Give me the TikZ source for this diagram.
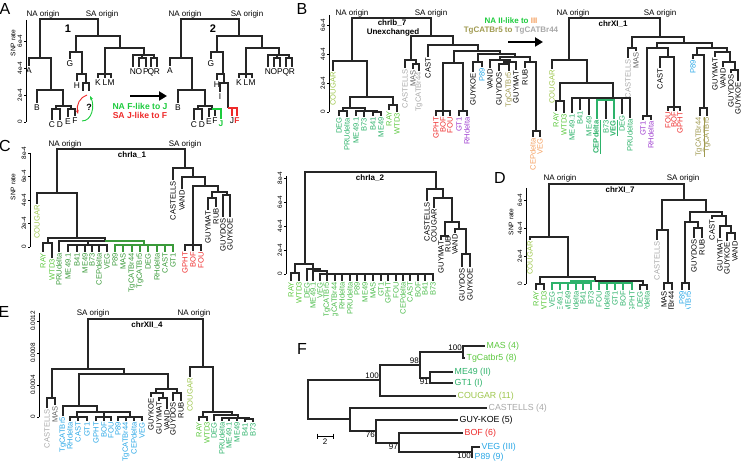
\documentclass[tikz,border=0pt]{standalone}
\usepackage{fontspec}
\setmainfont{Liberation Sans}
\usetikzlibrary{arrows.meta}

\definecolor{cougar}{HTML}{9DC64C}
\definecolor{lgreen}{HTML}{5CC83E}
\definecolor{tgreen}{HTML}{2DB26A}
\definecolor{dgreen}{HTML}{3A9A3A}
\definecolor{mgreen}{HTML}{4CBC4C}
\definecolor{lgrey}{HTML}{A8A8A8}
\definecolor{mgrey}{HTML}{666666}
\definecolor{tred}{HTML}{EE2A2A}
\definecolor{tpurple}{HTML}{9E3DCF}
\definecolor{tblue}{HTML}{2AA7E6}
\definecolor{olive}{HTML}{A09A50}
\definecolor{orng}{HTML}{F4A060}
\definecolor{nagreen}{HTML}{1DCB3D}

% a leaf: tip coordinate plus its label
\newcommand\leaf[6][lf]{\coordinate (#2) at (#3,#4);
  \node[#1,text=#5] (#2t) at (#2) {#6};}
% SNP rate axis: name, x, top, bottom, ticks as y/label
\newcommand\snpaxis[5]{\draw[axis] (#2,#3) -- (#2,#4);
  \foreach \y/\t [count=\i] in {#5} {\draw[axis] (#2,\y) -- ++(-2.5,0);
    \node[tick] (#1\i) at (#2-3,\y) {\t};}}

\begin{document}
\begin{tikzpicture}[x=1pt, y=-1pt,
    lf/.style={rotate=90, anchor=east, inner sep=1pt, font=\fontsize{7.6}{8}\selectfont},
    lh/.style={anchor=north, inner sep=1.2pt, font=\fontsize{8.4}{9}\selectfont},
    lr/.style={anchor=west, inner sep=1.5pt, font=\fontsize{8.8}{10}\selectfont},
    orig/.style={inner sep=0pt, font=\fontsize{8}{9}\selectfont},
    ttl/.style={inner sep=0pt, font=\bfseries\fontsize{8}{9}\selectfont},
    panel/.style={inner sep=0pt, font=\fontsize{16}{18}\selectfont},
    tick/.style={rotate=90, anchor=south, inner sep=.5pt, font=\fontsize{6.4}{7}\selectfont},
    snp/.style={rotate=90, inner sep=0pt, font=\fontsize{6.6}{7}\selectfont},
    boot/.style={inner sep=1pt, font=\fontsize{8}{9}\selectfont},
    axis/.style={line width=.7pt},
    bigarrow/.style={line width=2.4pt, -{Triangle[length=8pt,width=9pt]}},
    every edge/.style={draw=black!85, line width=1.15pt, to path={-| (\tikztotarget)}},
    gl/.style={draw=dgreen}, tl/.style={draw=tgreen},
    rl/.style={draw=tred}, nl/.style={draw=nagreen}
  ]
\useasboundingbox (0,0) rectangle (742,470);

%% ---------------- A
\node[panel] (pA) at (5,9) {A};
\snpaxis{axA}{26}{20}{122}{122/0,95/2e-4,68/4e-4,41/6e-4}
\node[snp] (snpA) at (13,43) {SNP rate};
\node[orig] (naA1) at (43,14) {NA origin};
\node[orig] (saA1) at (102,14) {SA origin};
\node[orig] (naA2) at (185,14) {NA origin};
\node[orig] (saA2) at (247,14) {SA origin};
\node[ttl, font=\bfseries\fontsize{11}{12}\selectfont] (one) at (68,29) {1};
\node[ttl, font=\bfseries\fontsize{11}{12}\selectfont] (two) at (213,29) {2};

% tree 1
\coordinate (r1) at (69,19);
\coordinate (na1) at (40,58);
\coordinate (n21) at (51,90);
\coordinate (cf1) at (63,106);
\coordinate (cd1) at (56,109);
\coordinate (ef1) at (71,109);
\coordinate (sa1) at (98,36);
\coordinate (gh1) at (76,52);
\coordinate (hi1) at (82,74);
\coordinate (ij1) at (86,83);
\coordinate (rs1) at (120,48);
\coordinate (km1) at (105,74);
\coordinate (nr1) at (144,55);
\coordinate (op1) at (142,58);
\coordinate (qr1) at (154,58);
\leaf[lh]{aA1}{29}{66}{black}{A}
\leaf[lh]{aB1}{37}{103}{black}{B}
\leaf[lh]{aC1}{52}{120}{black}{C}
\leaf[lh]{aD1}{60}{120}{black}{D}
\leaf[lh]{aE1}{68}{117}{black}{E}
\leaf[lh]{aF1}{75}{116}{black}{F}
\leaf[lh]{aG1}{70}{59}{black}{G}
\leaf[lh]{aH1}{77}{81}{black}{H}
\coordinate (aI1) at (83,91);
\coordinate (aJ1) at (89,91);
\leaf[lh]{aK1}{98}{78}{black}{K}
\leaf[lh]{aL1}{105}{78}{black}{L}
\leaf[lh]{aM1}{111}{78}{black}{M}
\leaf[lh]{aN1}{133}{67}{black}{N}
\leaf[lh]{aO1}{139}{67}{black}{O}
\leaf[lh]{aP1}{146}{67}{black}{P}
\leaf[lh]{aQ1}{151}{67}{black}{Q}
\leaf[lh]{aR1}{157}{67}{black}{R}
\path (r1) edge (na1) edge (sa1);
\path (na1) edge (aA1) edge (n21);
\path (n21) edge (aB1) edge (cf1);
\path (cf1) edge (cd1) edge (ef1);
\path (cd1) edge (aC1) edge (aD1);
\path (ef1) edge (aE1) edge (aF1);
\path (sa1) edge (gh1) edge (rs1);
\path (gh1) edge (aG1) edge (hi1);
\path (hi1) edge (aH1) edge (ij1);
\path (ij1) edge (aI1) edge (aJ1);
\path (rs1) edge (km1) edge (nr1);
\path (km1) edge (aK1) edge (aL1) edge (aM1);
\path (nr1) edge (aN1) edge (op1) edge (qr1);
\path (op1) edge (aO1) edge (aP1);
\path (qr1) edge (aQ1) edge (aR1);
% the swap in question
\node[ttl, font=\bfseries\fontsize{9}{10}\selectfont] (qm) at (89,107) {?};
\coordinate (qr) at (87,95);
\coordinate (qf) at (78,114);
\coordinate (qg) at (82,121);
\coordinate (qj) at (90,96);
\draw[tred, line width=.9pt, -{Stealth[length=4pt]}] (qr) .. controls (80,97) and (76,105) .. (qf);
\draw[nagreen, line width=.9pt, -{Stealth[length=4pt]}] (qg) .. controls (92,121) and (95,106) .. (qj);

% tree 2
\coordinate (r2) at (210,19);
\coordinate (na2) at (181,58);
\coordinate (n22) at (192,90);
\coordinate (cf2) at (205,106);
\coordinate (cd2) at (198,109);
\coordinate (ef2) at (212,109);
\coordinate (sa2) at (239,36);
\coordinate (gh2) at (217,52);
\coordinate (hi2) at (223,74);
\coordinate (ij2) at (224,83);
\coordinate (jf2) at (228,108);
\coordinate (rs2) at (262,48);
\coordinate (km2) at (246,74);
\coordinate (nr2) at (279,55);
\coordinate (op2) at (277,58);
\coordinate (qr2) at (289,58);
\leaf[lh]{aA2}{170}{66}{black}{A}
\leaf[lh]{aB2}{178}{103}{black}{B}
\leaf[lh]{aC2}{194}{120}{black}{C}
\leaf[lh]{aD2}{202}{120}{black}{D}
\leaf[lh]{aE2}{209}{117}{black}{E}
\leaf[lh]{aF2}{215}{116}{black}{F}
\leaf[lh]{aJ2}{221}{119}{nagreen}{\textbf{J}}
\leaf[lh]{aG2}{211}{59}{black}{G}
\leaf[lh]{aH2}{217}{80}{black}{H}
\leaf[lh]{aI2}{220}{92}{black}{I}
\leaf[lh]{aJ3}{232}{116}{black}{J}
\leaf[lh]{aF3}{237}{116}{tred}{\textbf{F}}
\leaf[lh]{aK2}{239}{78}{black}{K}
\leaf[lh]{aL2}{246}{78}{black}{L}
\leaf[lh]{aM2}{252}{78}{black}{M}
\leaf[lh]{aN2}{268}{67}{black}{N}
\leaf[lh]{aO2}{274}{67}{black}{O}
\leaf[lh]{aP2}{280}{67}{black}{P}
\leaf[lh]{aQ2}{286}{67}{black}{Q}
\leaf[lh]{aR2}{292}{67}{black}{R}
\path (r2) edge (na2) edge (sa2);
\path (na2) edge (aA2) edge (n22);
\path (n22) edge (aB2) edge (cf2);
\path (cf2) edge (cd2) edge (ef2);
\path (cd2) edge (aC2) edge (aD2);
\path (ef2) edge (aE2) edge (aF2) edge[nl] (aJ2);
\path (sa2) edge (gh2) edge (rs2);
\path (gh2) edge (aG2) edge (hi2);
\path (hi2) edge (aH2) edge (ij2);
\path (ij2) edge (aI2) edge (jf2);
\path (jf2) edge[rl] (aJ3) edge[rl] (aF3);
\path (rs2) edge (km2) edge (nr2);
\path (km2) edge (aK2) edge (aL2) edge (aM2);
\path (nr2) edge (aN2) edge (op2) edge (qr2);
\path (op2) edge (aO2) edge (aP2);
\path (qr2) edge (aQ2) edge (aR2);

\coordinate (arA1) at (130,96);
\coordinate (arA2) at (167,96);
\draw[bigarrow] (arA1) -- (arA2);
\node[ttl, text=nagreen, font=\bfseries\fontsize{8.6}{10}\selectfont] (fj) at (140,106) {NA F-like to J};
\node[ttl, text=tred, font=\bfseries\fontsize{8.6}{10}\selectfont] (jfl) at (140,115) {SA J-like to F};

%% ---------------- B, chrIb_7
\node[panel] (pB) at (302,9) {B};
\snpaxis{axB}{329}{15}{112}{112/0,83/2e-4,54/4e-4,25/6e-4}
\node[orig] (naB) at (352,13) {NA origin};
\node[orig] (saB) at (431,13) {SA origin};
\node[ttl] (tB) at (392,23) {chrIb\_7};
\node[ttl] (tB2) at (393,32) {Unexchanged};
\coordinate (bR) at (392,18);
\coordinate (bNA) at (352,61);
\coordinate (bNB) at (367,97);
\coordinate (bNC) at (350,108);
\coordinate (bG1) at (343,111);
\coordinate (bG2) at (365,111);
\coordinate (bG3) at (377,112);
\coordinate (bRW) at (393,105);
\coordinate (bSA) at (431,36);
\coordinate (bC1) at (411,60);
\coordinate (bMT) at (416,64);
\coordinate (bC2) at (453,45);
\coordinate (bC3) at (478,51);
\coordinate (bGR) at (454,63);
\coordinate (bRD) at (443,111);
\coordinate (bPU) at (463,111);
\coordinate (bC4) at (500,54);
\coordinate (bGP) at (478,62);
\coordinate (bC5) at (515,57);
\coordinate (bC6) at (500,60);
\coordinate (bC8) at (510,62);
\coordinate (bGT) at (504,64);
\coordinate (bC7) at (530,62);
\coordinate (bCV) at (536,131);
\leaf{bCOU}{333}{71}{cougar}{COUGAR}
\leaf{bDEG}{339}{116}{tgreen}{DEG}
\leaf{bPRU}{347}{117}{tgreen}{PRUdelta}
\leaf{bME1}{356}{116}{tgreen}{ME49.1}
\leaf{bB73}{364}{117}{tgreen}{B73}
\leaf{bB41}{373}{116}{tgreen}{B41}
\leaf{bME}{381}{116}{tgreen}{ME49}
\leaf{bRAY}{389}{110}{lgreen}{RAY}
\leaf{bWTD}{397}{112}{lgreen}{WTD3}
\leaf{bCTL}{405}{68}{lgrey}{CASTELLS}
\leaf{bMAS}{413}{69}{mgrey}{MAS}
\leaf{bT44}{419}{71}{lgrey}{TgCATBr44}
\leaf{bCAST}{428}{57}{black}{CAST}
\leaf{bGPHT}{436}{116}{tred}{GPHT}
\leaf{bBOF}{443}{116}{tred}{BOF}
\leaf{bFOU}{450}{116}{tred}{FOU}
\leaf{bGT1}{459}{116}{tpurple}{GT1}
\leaf{bRHd}{467}{116}{tpurple}{RHdelta}
\leaf{bGK}{473}{72}{black}{GUYKOE}
\leaf{bP89}{482}{67}{tblue}{P89}
\leaf{bVAND}{490}{68}{black}{VAND}
\leaf{bGD}{499}{71}{black}{GUYDOS}
\leaf{bT5}{509}{71}{olive}{TgCATBr5}
\leaf{bGM}{516}{70}{black}{GUYMAT}
\leaf{bRUB}{525}{68}{black}{RUB}
\leaf{bCEP}{533}{137}{orng}{CEPdelta}
\leaf{bVEG}{540}{137}{orng}{VEG}
\path (bR) edge (bNA) edge (bSA);
\path (bNA) edge (bCOU) edge (bNB);
\path (bNB) edge (bNC) edge (bRW);
\path (bNC) edge (bG1) edge (bG2);
\path (bG1) edge (bDEG) edge (bPRU);
\path (bG2) edge (bME1) edge (bB73) edge (bG3);
\path (bG3) edge (bB41) edge (bME);
\path (bRW) edge (bRAY) edge (bWTD);
\path (bSA) edge (bC1) edge (bC2);
\path (bC1) edge (bCTL) edge (bMT);
\path (bMT) edge (bMAS) edge (bT44);
\path (bC2) edge (bCAST) edge (bC3);
\path (bC3) edge (bGR) edge (bC4);
\path (bGR) edge (bRD) edge (bPU);
\path (bRD) edge (bGPHT) edge (bBOF) edge (bFOU);
\path (bPU) edge (bGT1) edge (bRHd);
\path (bC4) edge (bGP) edge (bC5);
\path (bGP) edge (bGK) edge (bP89);
\path (bC5) edge (bC6) edge (bC7);
\path (bC6) edge (bVAND) edge (bC8);
\path (bC8) edge (bGT) edge (bGM);
\path (bGT) edge (bGD) edge (bT5);
\path (bC7) edge (bRUB) edge (bCV);
\path (bCV) edge (bCEP) edge (bVEG);

\node[ttl] (iiB) at (511,21) {\textcolor{nagreen}{NA II-like to }\textcolor{orng}{III}};
\node[ttl] (t5B) at (511,31) {\textcolor{olive}{TgCATBr5 to }\textcolor{lgrey}{TgCATBr44}};
\coordinate (arB1) at (508,42);
\coordinate (arB2) at (543,42);
\draw[bigarrow] (arB1) -- (arB2);

%% ---------------- chrXI_1
\node[orig] (naX) at (573,13) {NA origin};
\node[orig] (saX) at (660,13) {SA origin};
\node[ttl] (tX) at (613,24) {chrXI\_1};
\coordinate (xR) at (615,18);
\coordinate (xNA) at (569,60);
\coordinate (xNB) at (587,83);
\coordinate (xRW) at (560,101);
\coordinate (xNC) at (613,98);
\coordinate (xGV) at (605,100);
\coordinate (xSA) at (660,37);
\coordinate (xCM) at (632,48);
\coordinate (xS2) at (684,43);
\coordinate (xS3) at (657,48);
\coordinate (xGR) at (647,116);
\coordinate (xS5) at (668,57);
\coordinate (xRD) at (674,107);
\coordinate (xS4) at (712,48);
\coordinate (xPT) at (697,55);
\coordinate (xTG) at (704,108);
\coordinate (xS6) at (727,52);
\coordinate (xS7) at (730,62);
\coordinate (xS8) at (735,70);
\leaf{xCOU}{552}{69}{cougar}{COUGAR}
\leaf{xRAY}{556}{111}{lgreen}{RAY}
\leaf{xWTD}{564}{113}{lgreen}{WTD3}
\leaf{xME1}{572}{113}{tgreen}{ME49.1}
\leaf{xB41}{580}{110}{tgreen}{B41}
\leaf{xME}{589}{115}{tgreen}{ME49}
\leaf{xCEP}{597}{119}{tgreen}{\underline{\textbf{CEPdelta}}}
\leaf{xB73}{606}{119}{tgreen}{B73}
\leaf{xVEG}{614}{119}{tgreen}{\underline{\textbf{VEG}}}
\leaf{xDEG}{622}{114}{tgreen}{DEG}
\leaf{xPRU}{630}{118}{tgreen}{PRUdelta}
\leaf{xCTL}{628}{58}{lgrey}{CASTELLS}
\leaf{xMAS}{636}{51}{mgrey}{MAS}
\leaf{xGT1}{643}{120}{tpurple}{GT1}
\leaf{xRHd}{651}{120}{tpurple}{RHdelta}
\leaf{xCAST}{660}{68}{black}{CAST}
\leaf{xFOU}{668}{111}{tred}{FOU}
\leaf{xBOF}{674}{111}{tred}{BOF}
\leaf{xGPHT}{680}{111}{tred}{GPHT}
\leaf{xP89}{693}{59}{tblue}{P89}
\leaf{xT44}{700}{116}{olive}{\underline{TgCATBr44}}
\leaf{xT5}{707}{116}{olive}{TgCATBr5}
\leaf{xGM}{715}{57}{black}{GUYMAT}
\leaf{xVAND}{723}{67}{black}{VAND}
\leaf{xGD}{731}{73}{black}{GUYDOS}
\leaf{xGK}{738}{81}{black}{GUYKOE}
\path (xR) edge (xNA) edge (xSA);
\path (xNA) edge (xCOU) edge (xNB);
\path (xNB) edge (xRW) edge (xNC);
\path (xRW) edge (xRAY) edge (xWTD);
\path (xNC) edge (xME1) edge (xB41) edge (xME) edge (xGV) edge (xDEG) edge (xPRU);
\path (xGV) edge (xB73) edge[tl] (xCEP) edge[tl] (xVEG);
\path (xSA) edge (xCM) edge (xS2);
\path (xCM) edge (xCTL) edge (xMAS);
\path (xS2) edge (xS3) edge (xS4);
\path (xS3) edge (xGR) edge (xS5);
\path (xGR) edge (xGT1) edge (xRHd);
\path (xS5) edge (xCAST) edge (xRD);
\path (xRD) edge (xFOU) edge (xBOF) edge (xGPHT);
\path (xS4) edge (xPT) edge (xS6);
\path (xPT) edge (xP89) edge (xTG);
\path (xTG) edge (xT44) edge (xT5);
\path (xS6) edge (xGM) edge (xS7);
\path (xS7) edge (xVAND) edge (xS8);
\path (xS8) edge (xGD) edge (xGK);

%% ---------------- C, chrIa_1
\node[panel] (pC) at (5,146) {C};
\snpaxis{axC}{30}{153}{247}{247/0,223.5/2e-4,200/4e-4,176.5/6e-4,153/8e-4}
\node[snp] (snpC) at (13,187) {SNP rate};
\node[orig] (naC) at (65,144) {NA origin};
\node[orig] (saC) at (185,144) {SA origin};
\node[ttl] (tC) at (132,155) {chrIa\_1};
\coordinate (cR) at (121,149);
\coordinate (cNA) at (57,193);
\coordinate (cNB) at (77,238);
\coordinate (cRW) at (48,243);
\coordinate (cGC) at (105,241);
\coordinate (cG1) at (88,245);
\coordinate (cG2) at (144,245);
\coordinate (cSA) at (185,168);
\coordinate (cS2) at (193,177);
\coordinate (cS3) at (205,186);
\coordinate (cRD) at (193,245);
\coordinate (cS4) at (218,192);
\coordinate (cMR) at (212,198);
\coordinate (cDK) at (227,195);
\leaf{cCOU}{37}{204}{cougar}{COUGAR}
\leaf{cRAY}{43}{252}{lgreen}{RAY}
\leaf{cWTD}{52}{258}{lgreen}{WTD3}
\leaf{cPRU}{59}{252}{dgreen}{PRUdelta}
\leaf{cME1}{68}{252}{dgreen}{ME49.1}
\leaf{cB41}{77}{252}{dgreen}{B41}
\leaf{cME}{85}{252}{dgreen}{ME49}
\leaf{cB73}{92}{252}{dgreen}{B73}
\leaf{cCEP}{99}{252}{dgreen}{CEPdelta}
\leaf{cVEG}{107}{252}{dgreen}{VEG}
\leaf{cP89}{115}{252}{dgreen}{P89}
\leaf{cMAS}{123}{252}{dgreen}{MAS}
\leaf{cT44}{132}{252}{dgreen}{TgCATBr44}
\leaf{cT5}{140}{252}{dgreen}{TgCATBr5}
\leaf{cDEG}{148}{252}{dgreen}{DEG}
\leaf{cRHd}{157}{252}{dgreen}{RHdelta}
\leaf{cCAST}{165}{252}{dgreen}{CAST}
\leaf{cGT1}{173}{252}{dgreen}{GT1}
\leaf{cCTL}{173}{180}{black}{CASTELLS}
\leaf{cVAND}{182}{189}{black}{VAND}
\leaf{cGPHT}{185}{251}{tred}{GPHT}
\leaf{cBOF}{193}{251}{tred}{BOF}
\leaf{cFOU}{201}{251}{tred}{FOU}
\leaf{cGM}{208}{210}{black}{GUYMAT}
\leaf{cRUB}{216}{207}{black}{RUB}
\leaf{cGD}{223}{217}{black}{GUYDOS}
\leaf{cGK}{230}{217}{black}{GUYKOE}
\path (cR) edge (cNA) edge (cSA);
\path (cNA) edge (cCOU) edge (cNB);
\path (cNB) edge (cRW) edge (cGC);
\path (cRW) edge (cRAY) edge (cWTD);
\path (cGC) edge (cPRU) edge (cG1) edge[gl] (cG2);
\path (cG1) edge (cME1) edge (cB41) edge (cME) edge (cB73) edge (cCEP) edge (cVEG);
\path[every edge/.append style={gl}] (cG2) edge (cP89) edge (cMAS) edge (cT44) edge (cT5)
  edge (cDEG) edge (cRHd) edge (cCAST) edge (cGT1);
\path (cSA) edge (cCTL) edge (cS2);
\path (cS2) edge (cVAND) edge (cS3);
\path (cS3) edge (cRD) edge (cS4);
\path (cRD) edge (cGPHT) edge (cBOF) edge (cFOU);
\path (cS4) edge (cMR) edge (cDK);
\path (cMR) edge (cGM) edge (cRUB);
\path (cDK) edge (cGD) edge (cGK);

%% ---------------- chrIa_2
\snpaxis{axI}{286}{176}{274}{274/0,250/2e-4,226/4e-4,202/6e-4,178/8e-4}
\node[ttl] (tI) at (370,178) {chrIa\_2};
\coordinate (iR) at (370,172);
\coordinate (iNA) at (305,264);
\coordinate (iRW) at (295,273);
\coordinate (iNX) at (313,269);
\coordinate (iNY) at (320,271);
\coordinate (iNZ) at (327,274);
\coordinate (iSA) at (436,189);
\coordinate (iS2) at (443,198);
\coordinate (iS3) at (452,222);
\coordinate (iMR) at (445,236);
\coordinate (iS4) at (459,229);
\coordinate (iDK) at (466,254);
\begin{scope}
\clip (280,150) rectangle (480,316);
\leaf{iRAY}{291}{281}{lgreen}{RAY}
\leaf{iWTD}{299}{281}{lgreen}{WTD3}
\leaf{iDEG}{307}{281}{mgreen}{DEG}
\leaf{iME1}{313}{281}{mgreen}{ME49.1}
\leaf{iVEG}{320}{281}{mgreen}{VEG}
\leaf{iT5}{327}{281}{mgreen}{TgCATBr5}
\leaf{iT44}{335}{281}{mgreen}{TgCATBr44}
\leaf{iRHd}{342}{281}{mgreen}{RHdelta}
\leaf{iPRU}{350}{281}{mgreen}{PRUdelta}
\leaf{iP89}{357}{281}{mgreen}{P89}
\leaf{iME}{365}{281}{mgreen}{ME49}
\leaf{iMAS}{373}{281}{mgreen}{MAS}
\leaf{iGT1}{381}{281}{mgreen}{GT1}
\leaf{iGPHT}{388}{281}{mgreen}{GPHT}
\leaf{iFOU}{396}{281}{mgreen}{FOU}
\leaf{iCEP}{403}{281}{mgreen}{CEPdelta}
\leaf{iCAST}{410}{281}{mgreen}{CAST}
\leaf{iBOF}{418}{281}{mgreen}{BOF}
\leaf{iB41}{425}{281}{mgreen}{B41}
\leaf{iB73}{433}{281}{mgreen}{B73}
\end{scope}
\leaf{iCTL}{427}{201}{black}{CASTELLS}
\leaf{iCOU}{434}{208}{black}{COUGAR}
\leaf{iGM}{441}{240}{black}{GUYMAT}
\leaf{iRUB}{448}{235}{black}{RUB}
\leaf{iVAND}{455}{233}{black}{VAND}
\leaf{iGD}{462}{267}{black}{GUYDOS}
\leaf{iGK}{470}{267}{black}{GUYKOE}
\path (iR) edge (iNA) edge (iSA);
\path (iNA) edge (iRW) edge (iNX);
\path (iRW) edge (iRAY) edge (iWTD);
\path (iNX) edge (iDEG) edge (iNY);
\path (iNY) edge (iME1) edge (iNZ);
\path (iNZ) edge (iVEG) edge (iT5) edge (iT44) edge (iRHd) edge (iPRU) edge (iP89)
  edge (iME) edge (iMAS) edge (iGT1) edge (iGPHT) edge (iFOU) edge (iCEP)
  edge (iCAST) edge (iBOF) edge (iB41) edge (iB73);
\path (iSA) edge (iCTL) edge (iS2);
\path (iS2) edge (iCOU) edge (iS3);
\path (iS3) edge (iMR) edge (iS4);
\path (iMR) edge (iGM) edge (iRUB);
\path (iS4) edge (iVAND) edge (iDK);
\path (iDK) edge (iGD) edge (iGK);

%% ---------------- D, chrXI_7
\node[panel] (pD) at (500,178) {D};
\snpaxis{axD}{526}{188}{284}{284/0,256/2e-4,228/4e-4,200/6e-4}
\node[snp] (snpD) at (511,222) {SNP rate};
\node[orig] (naD) at (560,178) {NA origin};
\node[orig] (saD) at (683,178) {SA origin};
\node[ttl] (tD) at (620,190) {chrXI\_7};
\coordinate (dR) at (617,184);
\coordinate (dNA) at (549,237);
\coordinate (dNB) at (568,277);
\coordinate (dRW) at (540,284);
\coordinate (dGC) at (595,281);
\coordinate (dG1) at (571,283);
\coordinate (dG2) at (615,283);
\coordinate (dDC) at (643,285);
\coordinate (dSA) at (684,200);
\coordinate (dCM) at (662,230);
\coordinate (dMT) at (668,283);
\coordinate (dS2) at (706,212);
\coordinate (dS3) at (690,222);
\coordinate (dPB) at (685,283);
\coordinate (dGR) at (698,228);
\coordinate (dS4) at (722,216);
\coordinate (dS5) at (726,226);
\coordinate (dS6) at (731,233);
\leaf{dCOU}{530}{240}{cougar}{COUGAR}
\leaf{dCTL}{657}{240}{lgrey}{CASTELLS}
\leaf{dGD}{694}{238}{black}{GUYDOS}
\leaf{dRUB}{702}{238}{black}{RUB}
\leaf{dCAST}{712}{219}{black}{CAST}
\leaf{dGM}{720}{238}{black}{GUYMAT}
\leaf{dGK}{727}{241}{black}{GUYKOE}
\leaf{dVAND}{735}{240}{black}{VAND}
\begin{scope}
\clip (490,150) rectangle (742,309);
\leaf{dRAY}{536}{290}{lgreen}{RAY}
\leaf{dWTD}{544}{290}{lgreen}{WTD3}
\leaf{dVEG}{552}{290}{tgreen}{VEG}
\leaf{dME1}{560}{290}{tgreen}{ME49.1}
\leaf{dME}{568}{290}{tgreen}{ME49}
\leaf{dPRU}{576}{290}{tgreen}{PRUdelta}
\leaf{dB41}{583}{290}{tgreen}{B41}
\leaf{dB73}{591}{290}{tgreen}{B73}
\leaf{dFOU}{599}{290}{tgreen}{FOU}
\leaf{dRHd}{607}{290}{tgreen}{RHdelta}
\leaf{dGT1}{615}{290}{tgreen}{GT1}
\leaf{dBOF}{623}{290}{tgreen}{BOF}
\leaf{dGPHT}{632}{290}{tgreen}{GPHT}
\leaf{dDEG}{640}{290}{tgreen}{DEG}
\leaf{dCEP}{647}{290}{tgreen}{CEPdelta}
\leaf{dMAS}{664}{290}{black}{MAS}
\leaf{dT44}{672}{290}{black}{TgCATBr44}
\leaf{dP89}{682}{290}{tblue}{P89}
\leaf{dT5}{689}{290}{tblue}{TgCATBr5}
\end{scope}
\path (dR) edge (dNA) edge (dSA);
\path (dNA) edge (dCOU) edge (dNB);
\path (dNB) edge (dRW) edge (dGC);
\path (dRW) edge (dRAY) edge (dWTD);
\path (dGC) edge[tl] (dG1) edge[tl] (dG2) edge (dDC);
\path[every edge/.append style={tl}] (dG1) edge (dVEG) edge (dME1) edge (dME) edge (dPRU)
  edge (dB41) edge (dB73);
\path[every edge/.append style={tl}] (dG2) edge (dFOU) edge (dRHd) edge (dGT1) edge (dBOF)
  edge (dGPHT);
\path (dDC) edge (dDEG) edge (dCEP);
\path (dSA) edge (dCM) edge (dS2);
\path (dCM) edge (dCTL) edge (dMT);
\path (dMT) edge (dMAS) edge (dT44);
\path (dS2) edge (dS3) edge (dS4);
\path (dS3) edge (dPB) edge (dGR);
\path (dPB) edge (dP89) edge (dT5);
\path (dGR) edge (dGD) edge (dRUB);
\path (dS4) edge (dCAST) edge (dS5);
\path (dS5) edge (dGM) edge (dS6);
\path (dS6) edge (dGK) edge (dVAND);

%% ---------------- E, chrXII_4
\node[panel] (pE) at (4,312) {E};
\snpaxis{axE}{39}{313}{417}{417/0,385/0.0004,353/0.0008,321/0.0012}
\node[orig] (saE) at (93,313) {SA origin};
\node[orig] (naE) at (194,313) {NA origin};
\node[ttl] (tE) at (147,325) {chrXII\_4};
\coordinate (eR) at (146,319);
\coordinate (eSA) at (88,369);
\coordinate (eCM) at (52,398);
\coordinate (eS2) at (124,374);
\coordinate (eS3) at (79,406);
\coordinate (eS4) at (97,412);
\coordinate (eA1) at (77,417);
\coordinate (eA2) at (104,417);
\coordinate (eA3) at (130,417);
\coordinate (eS5) at (168,389);
\coordinate (eS6) at (156,393);
\coordinate (eMV) at (163,398);
\coordinate (eDR) at (177,393);
\coordinate (eNA) at (203,367);
\coordinate (eNB) at (213,412);
\coordinate (eRW) at (203,417);
\coordinate (eNC) at (232,415);
\coordinate (eND) at (238,418);
\coordinate (eNE) at (249,419);
\leaf{eCTL}{47}{408}{lgrey}{CASTELLS}
\leaf{eMAS}{55}{405}{mgrey}{MAS}
\leaf{eT5}{63}{416}{tblue}{TgCATBr5}
\leaf{eRHd}{70}{421}{tblue}{RHdelta}
\leaf{eCAST}{78}{421}{tblue}{CAST}
\leaf{eGT1}{87}{421}{tblue}{GT1}
\leaf{eGPHT}{96}{421}{tblue}{GPHT}
\leaf{eBOF}{104}{421}{tblue}{BOF}
\leaf{eFOU}{111}{421}{tblue}{FOU}
\leaf{eP89}{118}{421}{tblue}{P89}
\leaf{eT44}{126}{421}{tblue}{TgCATBr44}
\leaf{eCEP}{134}{421}{tblue}{CEPdelta}
\leaf{eVEG}{142}{421}{tblue}{VEG}
\leaf{eGK}{151}{397}{black}{GUYKOE}
\leaf{eGM}{159}{401}{black}{GUYMAT}
\leaf{eVAND}{167}{409}{black}{VAND}
\leaf{eGD}{173}{401}{black}{GUYDOS}
\leaf{eRUB}{181}{401}{black}{RUB}
\leaf{eCOU}{190}{377}{cougar}{COUGAR}
\leaf{eRAY}{199}{421}{lgreen}{RAY}
\leaf{eWTD}{207}{421}{lgreen}{WTD3}
\leaf{eDEG}{214}{421}{tgreen}{DEG}
\leaf{ePRU}{222}{421}{tgreen}{PRUdelta}
\leaf{eME1}{229}{421}{tgreen}{ME49.1}
\leaf{eME}{237}{421}{tgreen}{ME49}
\leaf{eB41}{245}{422}{tgreen}{B41}
\leaf{eB73}{253}{422}{tgreen}{B73}
\path (eR) edge (eSA) edge (eNA);
\path (eSA) edge (eCM) edge (eS2);
\path (eCM) edge (eCTL) edge (eMAS);
\path (eS2) edge (eS3) edge (eS5);
\path (eS3) edge (eT5) edge (eS4);
\path (eS4) edge (eA1) edge (eA2) edge (eA3);
\path (eA1) edge (eRHd) edge (eCAST) edge (eGT1);
\path (eA2) edge (eGPHT) edge (eBOF) edge (eFOU);
\path (eA3) edge (eP89) edge (eT44) edge (eCEP) edge (eVEG);
\path (eS5) edge (eS6) edge (eDR);
\path (eS6) edge (eGK) edge (eMV);
\path (eMV) edge (eGM) edge (eVAND);
\path (eDR) edge (eGD) edge (eRUB);
\path (eNA) edge (eCOU) edge (eNB);
\path (eNB) edge (eRW) edge (eNC);
\path (eRW) edge (eRAY) edge (eWTD);
\path (eNC) edge (eDEG) edge (eND);
\path (eND) edge (ePRU) edge (eME1) edge (eME) edge (eNE);
\path (eNE) edge (eB41) edge (eB73);

%% ---------------- F, consensus tree
\node[panel] (pF) at (302,349) {F};
\begin{scope}[every edge/.append style={line width=1.05pt, to path={|- (\tikztotarget)}}]
\coordinate (fR) at (308,400);
\coordinate (fN100a) at (380,380);
\coordinate (fN98) at (420,365);
\coordinate (fN100b) at (463,352);
\coordinate (fN91) at (430,378);
\coordinate (fNB) at (350,419);
\coordinate (fN76) at (376,431);
\coordinate (fN97) at (399,443);
\coordinate (fN100c) at (472,452);
\leaf[lr]{fMAS}{485}{346}{lgreen}{MAS (4)}
\leaf[lr]{fTg}{465}{358}{lgreen}{TgCatbr5 (8)}
\leaf[lr]{fME}{453}{372}{tgreen}{ME49 (II)}
\leaf[lr]{fGT}{453}{383}{tgreen}{GT1 (I)}
\leaf[lr]{fCOU}{456}{396}{cougar}{COUGAR (11)}
\leaf[lr]{fCTL}{487}{408}{lgrey}{CASTELLS (4)}
\leaf[lr]{fGK}{458}{420}{black}{GUY-KOE (5)}
\leaf[lr]{fBOF}{463}{433}{tred}{BOF (6)}
\leaf[lr]{fVEG}{480}{447}{tblue}{VEG (III)}
\leaf[lr]{fP89}{473}{457}{tblue}{P89 (9)}
\path (fR) edge (fN100a) edge (fNB);
\path (fN100a) edge (fN98) edge (fCOU);
\path (fN98) edge (fN100b) edge (fN91);
\path (fN100b) edge (fMAS) edge (fTg);
\path (fN91) edge (fME) edge (fGT);
\path (fNB) edge (fCTL) edge (fN76);
\path (fN76) edge (fGK) edge (fN97);
\path (fN97) edge (fBOF) edge (fN100c);
\path (fN100c) edge (fVEG) edge (fP89);
\end{scope}
\node[boot, anchor=south east] (bs1) at (fN100a) {100};
\node[boot, anchor=south east] (bs2) at (fN98) {98};
\node[boot, anchor=south east] (bs3) at (fN100b) {100};
\node[boot, anchor=north east] (bs4) at (fN91) {91};
\node[boot, anchor=north east] (bs5) at (fN76) {76};
\node[boot, anchor=north east] (bs6) at (fN97) {97};
\node[boot, anchor=north east] (bs7) at (fN100c) {100};
% scale bar
\coordinate (fs1) at (317,436);
\coordinate (fs2) at (333,436);
\draw[line width=.8pt] (fs1) -- (fs2);
\draw[line width=.8pt] ([yshift=2.5pt]fs1) -- ([yshift=-2.5pt]fs1);
\draw[line width=.8pt] ([yshift=2.5pt]fs2) -- ([yshift=-2.5pt]fs2);
\node[boot, anchor=north] (fsc) at (325,438) {2};
\end{tikzpicture}
\end{document}
